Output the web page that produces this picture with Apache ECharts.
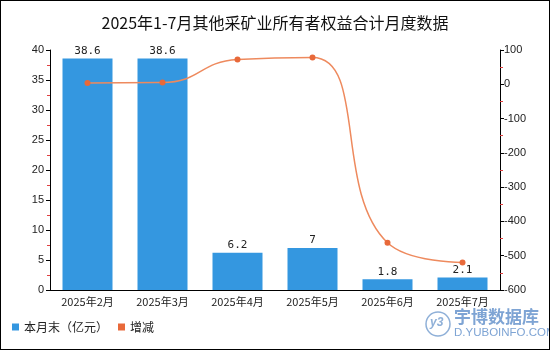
<!DOCTYPE html>
<html><head><meta charset="utf-8">
<script src="https://cdn.jsdelivr.net/npm/echarts@6/dist/echarts.min.js"></script>
<style>html,body{margin:0;padding:0;background:#fff}#c{width:548px;height:348px;border:1px solid #000}</style>
</head><body><div id="c"></div>
<script>
var categories = ['2025年2月','2025年3月','2025年4月','2025年5月','2025年6月','2025年7月'];
var barValues = [38.6, 38.6, 6.2, 7, 1.8, 2.1];
var lineValues = [4, 5, 72, 78, -462, -520];
var chart = echarts.init(document.getElementById('c'));
var font = '"Noto Sans CJK SC", sans-serif';
chart.setOption({
  animation: false,
  title: {text: '2025年1-7月其他采矿业所有者权益合计月度数据', left: 'center', top: 9,
    textStyle: {fontSize: 16, fontWeight: 'normal', color: '#111', fontFamily: font}},
  legend: {left: 6, bottom: 11, itemWidth: 7, itemHeight: 7, itemGap: 10, icon: 'rect',
    textStyle: {fontSize: 12, color: '#222', fontFamily: font},
    data: ['本月末（亿元）', '增减']},
  grid: {left: 49, right: 49, top: 49, bottom: 59},
  xAxis: {type: 'category', data: categories,
    axisLine: {lineStyle: {color: '#000'}}, axisTick: {show: false},
    axisLabel: {fontSize: 11, color: '#222', margin: 6, fontFamily: font}},
  yAxis: [
    {type: 'value', min: 0, max: 40, interval: 5, splitLine: {show: false},
     axisLine: {show: true, lineStyle: {color: '#000'}}, axisTick: {show: true, length: 4},
     minorTick: {show: true, splitNumber: 2, length: 3, lineStyle: {color: '#e04040'}},
     axisLabel: {fontSize: 11, color: '#222', margin: 6}},
    {type: 'value', min: -600, max: 100, interval: 100, splitLine: {show: false},
     axisLine: {show: true, lineStyle: {color: '#000'}}, axisTick: {show: true, length: 4},
     minorTick: {show: true, splitNumber: 2, length: 3, lineStyle: {color: '#e04040'}},
     axisLabel: {fontSize: 11, color: '#222', margin: 4}}
  ],
  series: [
    {name: '本月末（亿元）', type: 'bar', data: barValues, barWidth: 50, itemStyle: {color: '#3497e0'},
     label: {show: true, position: 'top', fontSize: 11, color: '#222', distance: 2, fontFamily: '"DejaVu Sans Mono", monospace'}},
    {name: '增减', type: 'line', yAxisIndex: 1, data: lineValues, smooth: true,
     symbol: 'circle', symbolSize: 6, itemStyle: {color: '#e8693a'}, lineStyle: {color: '#ee8a5e', width: 1.5}}
  ],
  graphic: [
    {type: 'circle', shape: {cx: 437, cy: 323, r: 12}, style: {fill: 'none', stroke: '#8fb0d8', lineWidth: 1.5}},
    {type: 'text', left: 429, top: 316, style: {text: 'y3', fill: '#8fb0d8', font: 'italic bold 12px sans-serif'}},
    {type: 'text', left: 453, top: 307, style: {text: '宇博数据库', fill: '#7ea4d4', font: 'bold 17px "Noto Sans CJK SC"'}},
    {type: 'text', left: 453, top: 326, style: {text: 'D.YUBOINFO.COM', fill: '#7ea4d4', font: '11.5px "Liberation Sans"'}}
  ]
});
</script></body></html>
